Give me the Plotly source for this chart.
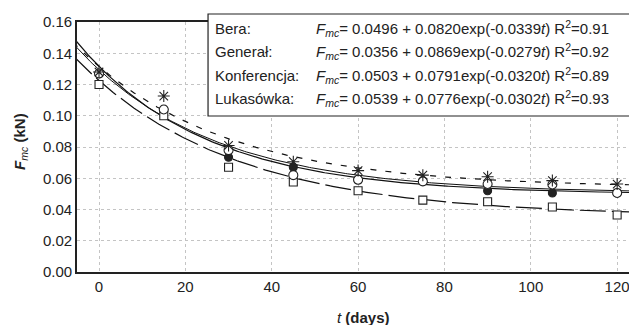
import numpy as np
import plotly.graph_objects as go

# ---- data ----
days = [0, 15, 30, 45, 60, 75, 90, 105, 120]
series_names = ["Bera", "Generał", "Konferencja", "Lukasówka"]
bera = [0.127, 0.104, 0.0735, 0.067, 0.059, 0.058, 0.052, 0.0506, 0.0506]
general = [0.120, 0.100, 0.067, 0.0576, 0.052, 0.046, 0.045, 0.0416, 0.0365]
konferencja = [0.127, 0.104, 0.078, 0.062, 0.059, 0.058, 0.0563, 0.056, 0.0506]
lukasowka = [0.128, 0.1126, 0.081, 0.0706, 0.0649, 0.062, 0.061, 0.0585, 0.0563]
# fit parameters: F = a + b*exp(c*t)
fit_a = [0.0496, 0.0356, 0.0503, 0.0539]
fit_b = [0.0820, 0.0869, 0.0791, 0.0776]
fit_c = [-0.0339, -0.0279, -0.0320, -0.0302]
r2 = ["0.91", "0.92", "0.89", "0.93"]
y_ticks = [0.00, 0.02, 0.04, 0.06, 0.08, 0.10, 0.12, 0.14, 0.16]
x_ticks = [0, 20, 40, 60, 80, 100, 120]

values = [bera, general, konferencja, lukasowka]
dashes = ["solid", "26px,6px", "solid", "6px,9px"]
widths = [1.2, 1.2, 1.0, 1.2]
symbols = ["circle", "square", "circle", "asterisk-open"]
fills = ["#222", "white", "white", "#222"]
msizes = [8, 8, 9, 10]

fig = go.Figure()
t = np.linspace(-6, 126, 300)
for i in range(4):
    fig.add_trace(go.Scatter(x=t, y=fit_a[i] + fit_b[i] * np.exp(fit_c[i] * t),
                             mode="lines", line=dict(color="#111", width=widths[i], dash=dashes[i]),
                             showlegend=False, hoverinfo="skip"))
for i in range(4):
    fig.add_trace(go.Scatter(x=days, y=values[i], mode="markers", name=series_names[i],
                             marker=dict(symbol=symbols[i], size=msizes[i], color=fills[i],
                                         line=dict(color="#222", width=1.1)),
                             showlegend=False))

font = "Liberation Sans, Arial, sans-serif"
fig.update_layout(
    width=629, height=317,
    margin=dict(l=69, r=0, t=14, b=53),
    paper_bgcolor="white", plot_bgcolor="white",
    font=dict(family=font, size=15, color="#222"),
    xaxis=dict(range=[-5.1, 124.6], tickvals=x_ticks, showgrid=True, gridcolor="#c4c4c4",
               griddash="dot", gridwidth=1, showline=True, linecolor="#222", linewidth=1.6,
               mirror=True, ticks="", zeroline=False, tickfont=dict(size=15)),
    yaxis=dict(range=[0, 0.16], tickvals=y_ticks, tickformat=".2f", showgrid=True,
               gridcolor="#c4c4c4", griddash="dot", gridwidth=1, showline=True,
               linecolor="#222", linewidth=1.6, ticks="", zeroline=False, tickfont=dict(size=15)),
)

# axis titles
fig.add_annotation(xref="paper", yref="paper", x=0.511, y=-0.18, xanchor="center", yanchor="middle",
                   showarrow=False, text="<i>t</i> <b>(days)</b>", font=dict(size=15, color="#222"))
fig.add_annotation(xref="paper", yref="paper", x=-0.102, y=0.524, xanchor="center", yanchor="middle",
                   showarrow=False, textangle=-90,
                   text="<b><i>F</i></b><sub><i>mc</i></sub><b> (kN)</b>", font=dict(size=15, color="#222"))

# legend box
fig.add_shape(type="rect", xref="paper", yref="paper", x0=0.234, x1=0.9875, y0=0.624, y1=1.032,
              line=dict(color="#222", width=1.2), fillcolor="white", layer="above")
rows_y = [0.976, 0.882, 0.788, 0.694]
for i in range(4):
    fig.add_annotation(xref="paper", yref="paper", x=0.243, y=rows_y[i], xanchor="left",
                       yanchor="middle", showarrow=False, text=series_names[i] + ":",
                       font=dict(size=15, color="#222"))
    formula = (f"<i>F</i><sub><i>mc</i></sub>= {fit_a[i]:.4f} + {fit_b[i]:.4f}exp({fit_c[i]:.4f}<i>t</i>) "
               f"R<sup>2</sup>={r2[i]}")
    fig.add_annotation(xref="paper", yref="paper", x=0.423, y=rows_y[i], xanchor="left",
                       yanchor="middle", showarrow=False, text=formula,
                       font=dict(size=15, color="#222"))

fig.write_html("out.html")
